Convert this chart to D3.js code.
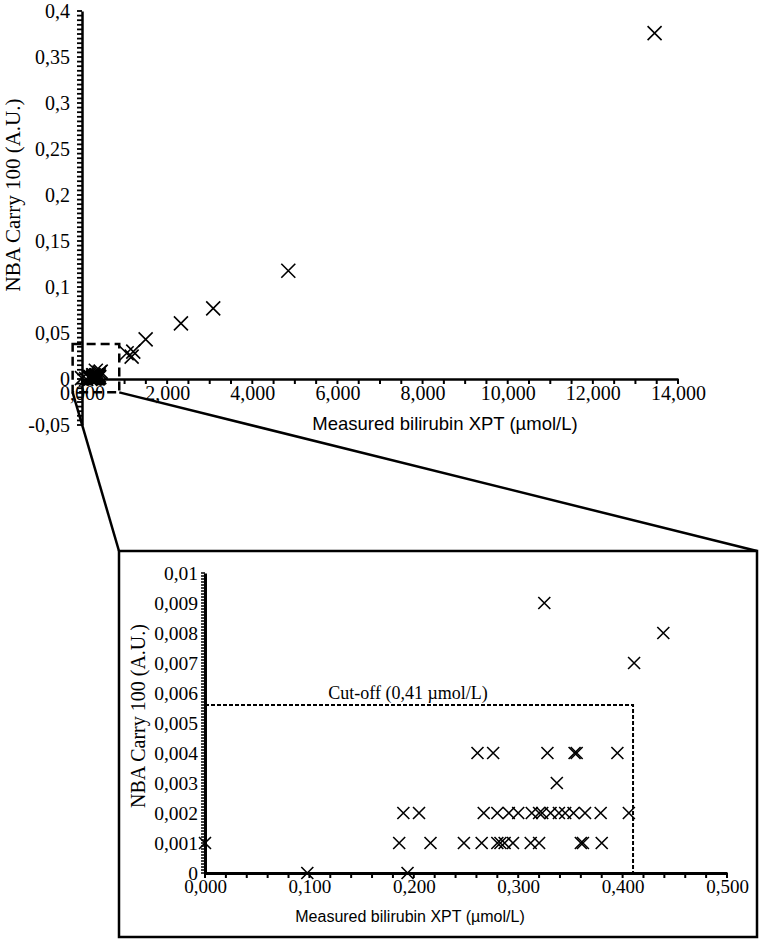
<!DOCTYPE html>
<html>
<head>
<meta charset="utf-8">
<script src="https://cdn.jsdelivr.net/npm/d3@7"></script>
<style>
  body { margin: 0; background: #fff; }
  svg { display: block; }
</style>
</head>
<body>
<div id="chart"></div>
<script>
// small points, shown enlarged in the inset
var insetX = [0.000, 0.186, 0.216, 0.248, 0.265, 0.280, 0.283, 0.287, 0.295, 0.312, 0.320, 0.360, 0.362, 0.380,
              0.098, 0.194,
              0.190, 0.205, 0.267, 0.280, 0.291, 0.300, 0.313, 0.320, 0.323, 0.331, 0.339, 0.345, 0.353, 0.364, 0.379, 0.406,
              0.337,
              0.261, 0.276, 0.328, 0.354, 0.356, 0.395,
              0.325, 0.411, 0.439];
var insetY = [0.001, 0.001, 0.001, 0.001, 0.001, 0.001, 0.001, 0.001, 0.001, 0.001, 0.001, 0.001, 0.001, 0.001,
              0, 0,
              0.002, 0.002, 0.002, 0.002, 0.002, 0.002, 0.002, 0.002, 0.002, 0.002, 0.002, 0.002, 0.002, 0.002, 0.002, 0.002,
              0.003,
              0.004, 0.004, 0.004, 0.004, 0.004, 0.004,
              0.009, 0.007, 0.008];
// larger points, only in the main chart
var bigX = [1.049, 1.166, 1.204, 1.495, 2.324, 3.082, 4.846, 13.45];
var bigY = [0.028, 0.0243, 0.0297, 0.0431, 0.0605, 0.0768, 0.1177, 0.376];

var mainXTicks = [0, 2, 4, 6, 8, 10, 12, 14];
var mainYTicks = [-0.05, 0, 0.05, 0.1, 0.15, 0.2, 0.25, 0.3, 0.35, 0.4];
var insetXTicks = [0, 0.1, 0.2, 0.3, 0.4, 0.5];
var insetYTicks = [0, 0.001, 0.002, 0.003, 0.004, 0.005, 0.006, 0.007, 0.008, 0.009, 0.01];
var zoomX = [-0.22, 0.875];   // dashed window, main chart units
var zoomY = [-0.0145, 0.038];
var cutoffX = 0.41, cutoffY = 0.0056;
var xTitle = "Measured bilirubin XPT (\u00b5mol/L)";
var yTitle = "NBA Carry 100 (A.U.)";
var cutoffLabel = "Cut-off (0,41 \u00b5mol/L)";

var W = 762, H = 940;
var serif = "'Liberation Serif', 'Times New Roman', serif";
var sans = "'Liberation Sans', Arial, sans-serif";

var loc = d3.formatLocale({decimal: ",", thousands: ".", grouping: [3], currency: ["", ""], minus: "-"});

var svg = d3.select("#chart").append("svg")
    .attr("width", W)
    .attr("height", H);

// tick marks drawn as plain lines (major + minor)
function xTicks(g, scale, vals, y0, len, w) {
  g.append("g").selectAll("line").data(vals).enter().append("line")
      .attr("x1", function(d) { return scale(d); }).attr("x2", function(d) { return scale(d); })
      .attr("y1", y0).attr("y2", y0 + len)
      .attr("stroke", "#000").attr("stroke-width", w);
}
function yTicks(g, scale, vals, x0, len, w) {
  g.append("g").selectAll("line").data(vals).enter().append("line")
      .attr("y1", function(d) { return scale(d); }).attr("y2", function(d) { return scale(d); })
      .attr("x1", x0).attr("x2", x0 - len)
      .attr("stroke", "#000").attr("stroke-width", w);
}
function styleAxis(g, size, w) {
  g.select(".domain").attr("stroke", "#000").attr("stroke-width", w);
  g.selectAll(".tick line").remove();
  g.selectAll("text").attr("font-family", serif).attr("font-size", size).attr("fill", "#000");
}

// ---------- main chart
var x = d3.scaleLinear().domain([0, 14]).range([82, 678]);
var y = d3.scaleLinear().domain([-0.05, 0.4]).range([425, 11]);

var main = svg.append("g");

var mx = main.append("g")
    .attr("transform", "translate(0," + y(0) + ")")
    .call(d3.axisBottom(x).tickValues(mainXTicks).tickSizeInner(6).tickSizeOuter(0).tickPadding(1).tickFormat(loc.format(".3f")));
styleAxis(mx, 20, 2.5);

var my = main.append("g")
    .attr("transform", "translate(" + x(0) + ",0)")
    .call(d3.axisLeft(y).tickValues(mainYTicks).tickSizeInner(6).tickSizeOuter(0).tickPadding(6).tickFormat(loc.format(".2~f")));
styleAxis(my, 20, 2.5);

xTicks(main, x, d3.range(0, 14.01, 0.5), y(0), 5, 2);
yTicks(main, y, d3.range(-0.05, 0.4001, 0.005), x(0), 5, 1.8);

main.append("text")
    .attr("x", 445).attr("y", 430)
    .attr("text-anchor", "middle")
    .attr("font-family", sans).attr("font-size", 18.5)
    .text(xTitle);
main.append("text")
    .attr("transform", "translate(20,195) rotate(-90)")
    .attr("text-anchor", "middle")
    .attr("font-family", serif).attr("font-size", 21)
    .text(yTitle);

function cross(sel, xs, ys, s) {
  sel.append("path")
      .attr("d", "M" + (xs - s) + "," + (ys - s) + "L" + (xs + s) + "," + (ys + s) +
                 "M" + (xs - s) + "," + (ys + s) + "L" + (xs + s) + "," + (ys - s))
      .attr("stroke", "#000").attr("stroke-width", 1.6).attr("fill", "none");
}

var allX = insetX.concat(bigX), allY = insetY.concat(bigY);
var mpts = main.append("g");
allX.forEach(function(v, i) { cross(mpts, x(v), y(allY[i]), 7); });

// dashed zoom window
main.append("rect")
    .attr("x", x(zoomX[0])).attr("y", y(zoomY[1]))
    .attr("width", x(zoomX[1]) - x(zoomX[0]))
    .attr("height", y(zoomY[0]) - y(zoomY[1]))
    .attr("fill", "none").attr("stroke", "#000")
    .attr("stroke-width", 2.5).attr("stroke-dasharray", "9,5");

// ---------- inset
var box = {x0: 119, y0: 551, x1: 757, y1: 937};

svg.append("line")
    .attr("x1", x(zoomX[0])).attr("y1", y(zoomY[0]))
    .attr("x2", box.x0).attr("y2", box.y0)
    .attr("stroke", "#000").attr("stroke-width", 2.5);
svg.append("line")
    .attr("x1", x(zoomX[1])).attr("y1", y(zoomY[0]))
    .attr("x2", box.x1).attr("y2", box.y0)
    .attr("stroke", "#000").attr("stroke-width", 2.5);

svg.append("rect")
    .attr("x", box.x0).attr("y", box.y0)
    .attr("width", box.x1 - box.x0).attr("height", box.y1 - box.y0)
    .attr("fill", "#fff").attr("stroke", "#000").attr("stroke-width", 2.5);

var ix = d3.scaleLinear().domain([0, 0.5]).range([205, 727]);
var iy = d3.scaleLinear().domain([0, 0.01]).range([873, 573]);

var inset = svg.append("g");

var ixa = inset.append("g")
    .attr("transform", "translate(0," + iy(0) + ")")
    .call(d3.axisBottom(ix).tickValues(insetXTicks).tickSizeInner(5).tickSizeOuter(0).tickPadding(2).tickFormat(loc.format(".3f")));
styleAxis(ixa, 19, 3);

var iya = inset.append("g")
    .attr("transform", "translate(" + ix(0) + ",0)")
    .call(d3.axisLeft(iy).tickValues(insetYTicks).tickSizeInner(5).tickSizeOuter(0).tickPadding(2).tickFormat(loc.format(".3~f")));
styleAxis(iya, 19.5, 3);

xTicks(inset, ix, d3.range(0, 0.5001, 0.02), iy(0), 5, 2);
yTicks(inset, iy, d3.range(0, 0.01001, 0.0001), ix(0), 4, 1.5);

inset.append("text")
    .attr("x", 410).attr("y", 922)
    .attr("text-anchor", "middle")
    .attr("font-family", sans).attr("font-size", 16)
    .text(xTitle);
inset.append("text")
    .attr("transform", "translate(145,716) rotate(-90)")
    .attr("text-anchor", "middle")
    .attr("font-family", serif).attr("font-size", 20)
    .text(yTitle);

// cut-off
inset.append("path")
    .attr("d", "M" + ix(0) + "," + iy(cutoffY) + "H" + ix(cutoffX) + "V" + iy(0))
    .attr("fill", "none").attr("stroke", "#000")
    .attr("stroke-width", 2).attr("stroke-dasharray", "4,2");
inset.append("text")
    .attr("x", 408).attr("y", 699)
    .attr("text-anchor", "middle")
    .attr("font-family", serif).attr("font-size", 18)
    .text(cutoffLabel);

var ipts = inset.append("g");
insetX.forEach(function(v, i) { cross(ipts, ix(v), iy(insetY[i]), 6); });
</script>
</body>
</html>
